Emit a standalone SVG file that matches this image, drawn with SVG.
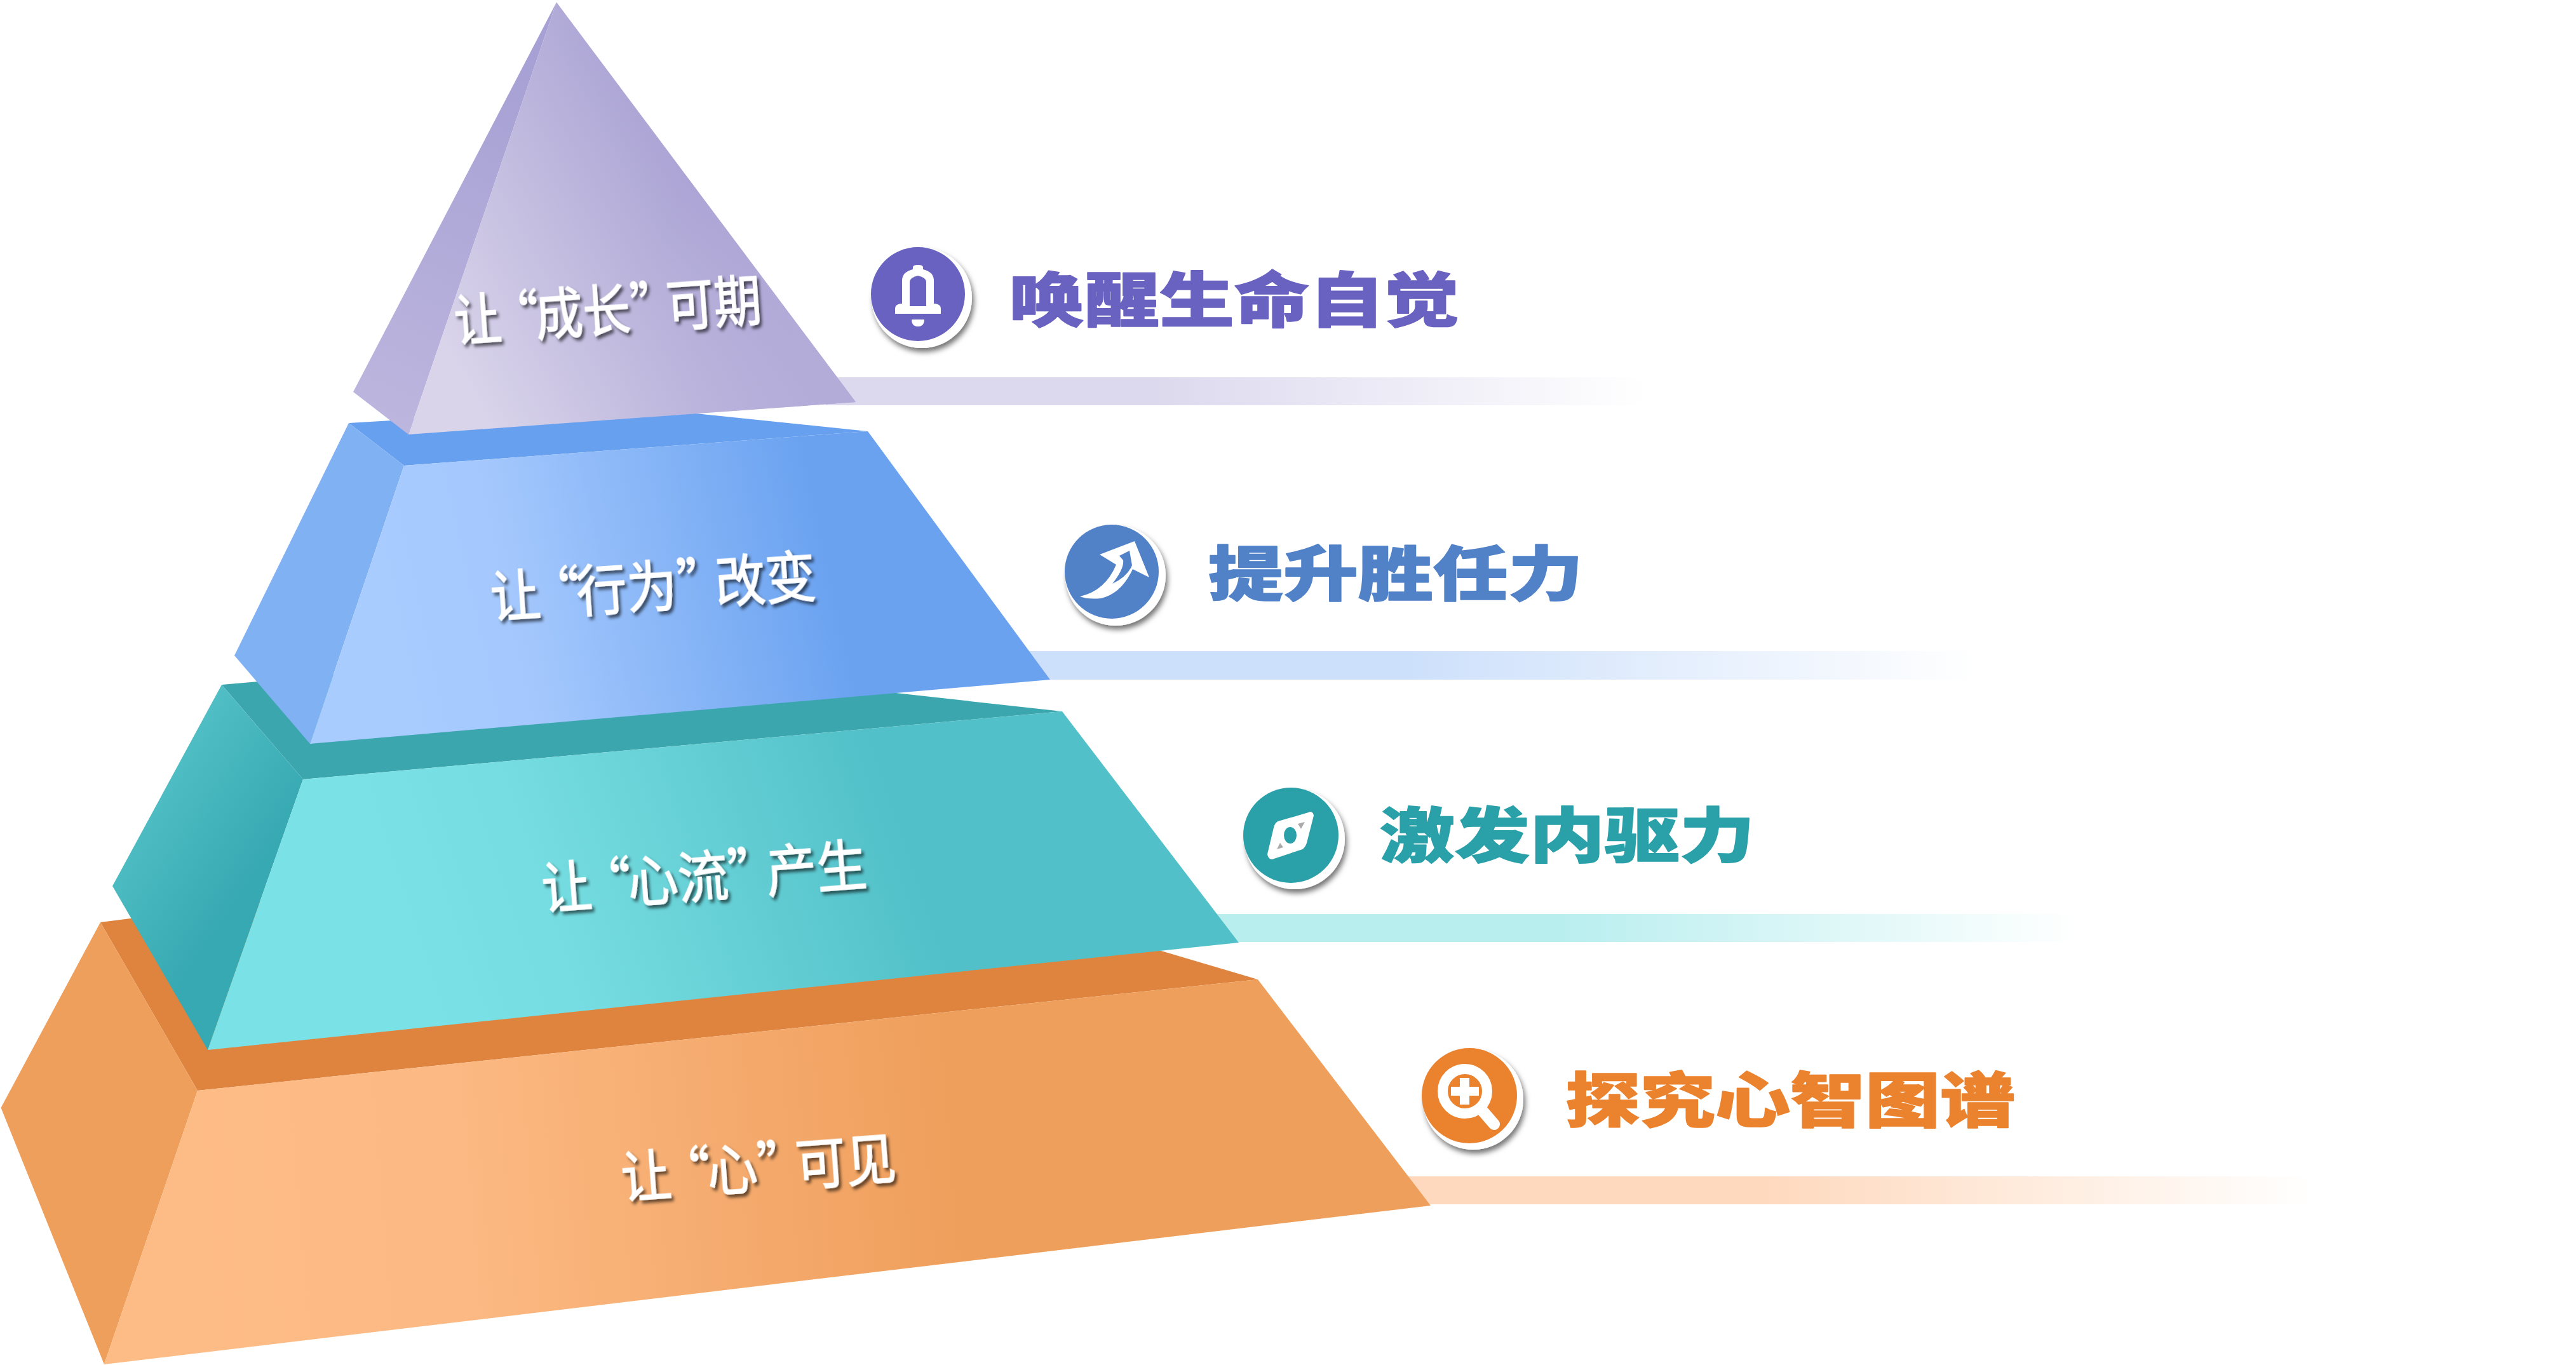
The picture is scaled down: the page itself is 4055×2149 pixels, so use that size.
<svg xmlns="http://www.w3.org/2000/svg" width="4055" height="2149" viewBox="0 0 4055 2149">
<style>
.lab{font-family:"Noto Sans CJK SC","Noto Sans",sans-serif;font-size:88px;font-weight:400;fill:#fff;stroke:#fff;stroke-width:1.5px;filter:url(#ts)}
.ttl{font-family:"Noto Sans CJK SC","Noto Sans",sans-serif;font-size:118px;font-weight:900;stroke-width:2px;stroke-linejoin:round}
.ring{fill:#fff;filter:url(#cs)}
.w{fill:#fff}
</style>
<defs>
<filter id="ts" x="-10%" y="-20%" width="120%" height="150%"><feDropShadow dx="4" dy="5" stdDeviation="2.5" flood-color="#000" flood-opacity=".6"/></filter>
<filter id="cs" x="-20%" y="-20%" width="150%" height="150%"><feDropShadow dx="3" dy="6" stdDeviation="4" flood-color="#000" flood-opacity=".55"/></filter>
<linearGradient id="bp" gradientUnits="userSpaceOnUse" x1="1300" y1="0" x2="2590" y2="0"><stop offset=".4" stop-color="#dcd9ee"/><stop offset="1" stop-color="#dcd9ee" stop-opacity="0"/></linearGradient>
<linearGradient id="bb" gradientUnits="userSpaceOnUse" x1="1620" y1="0" x2="3110" y2="0"><stop offset=".4" stop-color="#cde0fb"/><stop offset="1" stop-color="#cde0fb" stop-opacity="0"/></linearGradient>
<linearGradient id="bt" gradientUnits="userSpaceOnUse" x1="1910" y1="0" x2="3270" y2="0"><stop offset=".4" stop-color="#b9eeef"/><stop offset="1" stop-color="#b9eeef" stop-opacity="0"/></linearGradient>
<linearGradient id="bo" gradientUnits="userSpaceOnUse" x1="2210" y1="0" x2="3640" y2="0"><stop offset=".4" stop-color="#fed9be"/><stop offset="1" stop-color="#fed9be" stop-opacity="0"/></linearGradient>
<linearGradient id="fo" gradientUnits="userSpaceOnUse" x1="300" y1="1900" x2="1500" y2="1800"><stop offset="0" stop-color="#fdbb85"/><stop offset=".35" stop-color="#fcb983"/><stop offset="1" stop-color="#ef9f5c"/></linearGradient>
<linearGradient id="ft" gradientUnits="userSpaceOnUse" x1="650" y1="1500" x2="1400" y2="1250"><stop offset="0" stop-color="#7ae2e6"/><stop offset=".3" stop-color="#75dde1"/><stop offset="1" stop-color="#52c0c8"/></linearGradient>
<linearGradient id="lt" gradientUnits="userSpaceOnUse" x1="200" y1="1200" x2="420" y2="1350"><stop offset="0" stop-color="#57c4c9"/><stop offset="1" stop-color="#37a9b2"/></linearGradient>
<linearGradient id="fb" gradientUnits="userSpaceOnUse" x1="600" y1="1000" x2="1300" y2="850"><stop offset="0" stop-color="#a9ccff"/><stop offset=".3" stop-color="#a4c8fd"/><stop offset="1" stop-color="#6aa2f0"/></linearGradient>
<linearGradient id="fp" gradientUnits="userSpaceOnUse" x1="740" y1="620" x2="1170" y2="390"><stop offset="0" stop-color="#d9d4ea"/><stop offset="1" stop-color="#a9a2d4"/></linearGradient>
<linearGradient id="fp2" gradientUnits="userSpaceOnUse" x1="1000" y1="520" x2="1350" y2="640"><stop offset="0" stop-color="#c0b9df" stop-opacity="0"/><stop offset="1" stop-color="#b3acd9"/></linearGradient>
<linearGradient id="lp" gradientUnits="userSpaceOnUse" x1="600" y1="680" x2="860" y2="100"><stop offset="0" stop-color="#bdb6de"/><stop offset="1" stop-color="#a6a0d4"/></linearGradient>
</defs>
<rect width="4055" height="2149" fill="#fff"/>
<g id="connectors">
<rect x="1300" y="594" width="1290" height="44" fill="url(#bp)"/>
<rect x="1620" y="1025" width="1490" height="45" fill="url(#bb)"/>
<rect x="1910" y="1439" width="1360" height="44" fill="url(#bt)"/>
<rect x="2210" y="1852" width="1430" height="44" fill="url(#bo)"/>
</g>
<g id="layer-orange">
<polygon points="158,1452 1217,1316 1980,1542 311,1717" fill="#de843e"/>
<polygon points="158,1452 311,1717 164,2148 1.5,1744" fill="#ef9f5c"/>
<polygon points="311,1717 1980,1542 2252,1898 164,2148" fill="url(#fo)"/>
<text class="lab" transform="translate(980,1886) rotate(-4.2) scale(.9,1)">让<tspan dx="-19">“</tspan><tspan dx="-6">心</tspan>”<tspan dx="-21">可见</tspan></text>
</g>
<g id="layer-teal">
<polygon points="349,1078 876,1032 1672,1120 477,1227" fill="#3ca6af"/>
<polygon points="349,1078 477,1227 327,1653 177,1395" fill="url(#lt)"/>
<polygon points="477,1227 1672,1120 1950,1484 327,1653" fill="url(#ft)"/>
<text class="lab" transform="translate(855,1431) rotate(-4.3) scale(.9,1)">让<tspan dx="-19">“</tspan><tspan dx="-6">心流</tspan>”<tspan dx="-21">产生</tspan></text>
</g>
<g id="layer-blue">
<polygon points="549,666 990,640 1366,679 636,733" fill="#67a0ef"/>
<polygon points="549,666 636,733 488,1171 369,1032" fill="#80b1f3"/>
<polygon points="636,733 1366,679 1653,1070 488,1171" fill="url(#fb)"/>
<text class="lab" transform="translate(774,972) rotate(-3.8) scale(.9,1)">让<tspan dx="-19">“</tspan><tspan dx="-6">行为</tspan>”<tspan dx="-21">改变</tspan></text>
</g>
<g id="layer-purple">
<polygon points="876,3.5 643,684 556,617" fill="url(#lp)"/>
<polygon points="876,3.5 1347,633 643,684" fill="url(#fp)"/>
<polygon points="876,3.5 1347,633 643,684" fill="url(#fp2)"/>
<text class="lab" transform="translate(717,537) rotate(-4) scale(.85,1)">让<tspan dx="-19">“</tspan><tspan dx="-6">成长</tspan>”<tspan dx="-21">可期</tspan></text>
</g>
<g id="node-1">
<circle class="ring" cx="1451" cy="469" r="79"/>
<circle cx="1445" cy="463" r="74" fill="#6a62c0"/>
<path class="w" d="M1409 494V486Q1409 479 1418 478H1420V442Q1420 428 1437 424V421Q1437 417 1445 417Q1453 417 1453 421V424Q1470 428 1470 442V478H1472Q1481 479 1481 486V494Z"/>
<path d="M1432 482V444Q1432 437 1445 434Q1458 437 1458 444V482Z" fill="#6a62c0"/>
<path d="M1435 503H1455Q1455 514 1445 514Q1435 514 1435 503Z" class="w"/>
<text class="ttl" fill="#6a62c0" stroke="#6a62c0" transform="translate(1589,507) scale(1,.8)">唤醒生命自觉</text>
</g>
<g id="node-2">
<circle class="ring" cx="1756" cy="906" r="79"/>
<circle cx="1750" cy="900" r="74" fill="#5182c8"/>
<path class="w" d="M1786 852L1731 873L1757 889Q1740 930 1700 939Q1712 944 1733 942Q1765 935 1783 896L1809 909Z"/>
<path d="M1762 875L1778 867L1782 890Q1775 908 1751 919Q1770 895 1768 882Z" fill="#5182c8"/>
<text class="ttl" fill="#5182c8" stroke="#5182c8" transform="translate(1902,938) scale(1,.8)">提升胜任力</text>
</g>
<g id="node-3">
<circle class="ring" cx="2038" cy="1321" r="79"/>
<circle cx="2032" cy="1315" r="75" fill="#2aa0a9"/>
<path class="w" d="M2060 1280Q2066 1277 2067 1284L2056 1327Q2054 1333 2050 1336L2005 1351Q1998 1354 1996 1345L2006 1303Q2008 1296 2012 1294Z" stroke="#fff" stroke-width="2"/>
<ellipse cx="2031" cy="1315" rx="10" ry="13" fill="#2aa0a9"/>
<path d="M2043 1297L2054 1294L2048 1305Z M2010 1337L2015 1327L2020 1334Z" fill="#aaa"/>
<text class="ttl" fill="#2aa0a9" stroke="#2aa0a9" transform="translate(2172,1350) scale(1,.8)">激发内驱力</text>
</g>
<g id="node-4">
<circle class="ring" cx="2319" cy="1731" r="79"/>
<circle cx="2313" cy="1725" r="75" fill="#eb822e"/>
<circle cx="2306" cy="1718" r="35" fill="none" stroke="#fff" stroke-width="16"/>
<path class="w" d="M2298 1697H2313V1711H2328V1725H2313V1739H2298V1725H2284V1711H2298Z"/>
<path d="M2333 1748L2352 1770" stroke="#fff" stroke-width="18" stroke-linecap="round" fill="none"/>
<text class="ttl" fill="#eb822e" stroke="#eb822e" transform="translate(2464,1767) scale(1,.8)">探究心智图谱</text>
</g>
</svg>
